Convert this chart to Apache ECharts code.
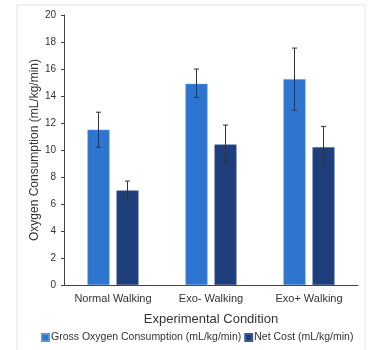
<!DOCTYPE html>
<html>
<head>
<meta charset="utf-8">
<script src="https://cdn.jsdelivr.net/npm/echarts@6/dist/echarts.min.js"></script>
<style>
  html, body { margin: 0; padding: 0; background: #fff; }
  #main { width: 372px; height: 350px; }
</style>
</head>
<body>
<div id="main"></div>
<script>
// data
var categories = ['Normal Walking', 'Exo- Walking', 'Exo+ Walking'];
var grossMean = [11.5, 14.9, 15.25];
var grossLow  = [10.2, 13.9, 12.95];
var grossHigh = [12.8, 16.0, 17.55];
var netMean = [7.0, 10.4, 10.2];
var netLow  = [6.3, 9.0, 8.7];
var netHigh = [7.7, 11.85, 11.75];
var yTicks = [0, 2, 4, 6, 8, 10, 12, 14, 16, 18, 20];

var FONT = '"Liberation Sans", Arial, sans-serif';
var BAR_W = 22;
var BAR_GAP = 7;

var myChart = echarts.init(document.getElementById('main'));

// error bar built with a custom series, shifted to sit on its bar
function errorSeries(low, high, side) {
    var data = low.map(function (v, i) { return [i, v, high[i]]; });
    return {
        type: 'custom',
        name: 'err' + side,
        silent: true,
        z: 5,
        data: data,
        renderItem: function (params, api) {
            var lo = api.coord([api.value(0), api.value(1)]);
            var hi = api.coord([api.value(0), api.value(2)]);
            var x = lo[0] + side * (BAR_W + BAR_GAP) / 2;
            var cap = 2.5;
            var st = { stroke: '#333', lineWidth: 1 };
            return {
                type: 'group',
                children: [
                    { type: 'line', shape: { x1: x, y1: lo[1], x2: x, y2: hi[1] }, style: st },
                    { type: 'line', shape: { x1: x - cap, y1: hi[1], x2: x + cap, y2: hi[1] }, style: st },
                    { type: 'line', shape: { x1: x - cap, y1: lo[1], x2: x + cap, y2: lo[1] }, style: st }
                ]
            };
        }
    };
}

var option = {
    animation: false,
    textStyle: { fontFamily: FONT },
    graphic: [{
        type: 'rect',
        shape: { x: 17, y: 5, width: 348, height: 350 },
        style: { fill: 'none', stroke: '#e4e4e4', lineWidth: 1 },
        silent: true
    }],
    grid: { left: 64, right: 14, top: 15, bottom: 65 },
    legend: {
        bottom: 2,
        left: 36,
        width: 330,
        icon: 'rect',
        itemWidth: 7,
        itemHeight: 7,
        itemGap: 3,
        data: ['Gross Oxygen Consumption (mL/kg/min)', 'Net Cost (mL/kg/min)'],
        textStyle: { fontSize: 10.5, color: '#333', fontFamily: FONT, padding: [0, 0, 0, -3] }
    },
    xAxis: {
        type: 'category',
        data: categories,
        name: 'Experimental Condition',
        nameLocation: 'middle',
        nameGap: 28,
        nameMoveOverlap: false,
        nameTextStyle: { fontSize: 13, color: '#333', fontFamily: FONT },
        axisLine: { lineStyle: { color: '#444' } },
        axisTick: { show: false },
        axisLabel: { fontSize: 11, color: '#333', margin: 8, interval: 0 }
    },
    yAxis: {
        type: 'value',
        min: yTicks[0],
        max: yTicks[yTicks.length - 1],
        interval: yTicks[1] - yTicks[0],
        name: 'Oxygen Consumption (mL/kg/min)',
        nameLocation: 'middle',
        nameGap: 23,
        nameMoveOverlap: false,
        nameTextStyle: { fontSize: 12, color: '#333', fontFamily: FONT },
        axisLine: { show: true, lineStyle: { color: '#444' } },
        axisTick: { show: true, length: 3, lineStyle: { color: '#444' } },
        axisLabel: { fontSize: 10, color: '#333', margin: 8 },
        splitLine: { show: false }
    },
    series: [
        {
            name: 'Gross Oxygen Consumption (mL/kg/min)',
            type: 'bar',
            barWidth: BAR_W,
            barGap: (BAR_GAP / BAR_W * 100) + '%',
            data: grossMean,
            itemStyle: { color: '#2E75CF', borderColor: '#5b95dc', borderWidth: 0.5 }
        },
        {
            name: 'Net Cost (mL/kg/min)',
            type: 'bar',
            barWidth: BAR_W,
            data: netMean,
            itemStyle: { color: '#1F3E7C', borderColor: '#3f5c94', borderWidth: 0.5 }
        },
        errorSeries(grossLow, grossHigh, -1),
        errorSeries(netLow, netHigh, 1)
    ]
};

myChart.setOption(option);
</script>
</body>
</html>
